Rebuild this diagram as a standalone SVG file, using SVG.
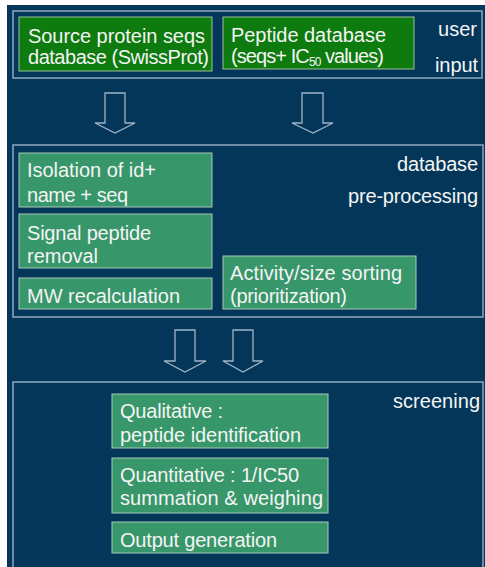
<svg xmlns="http://www.w3.org/2000/svg" width="485" height="567" viewBox="0 0 485 567">
<style>
text{font-family:"Liberation Sans",Arial,sans-serif;font-size:20px;fill:#f4f4f4}
.panel{fill:none;stroke:#8fa9bb;stroke-width:1.5}
.dk{fill:#0d7b0d;stroke:#9cc09c;stroke-width:1}
.lt{fill:#37966a;stroke:#a9c8bb;stroke-width:1}
.arr{fill:none;stroke:#9db4c6;stroke-width:1.3}
.r{text-anchor:end}
</style>
<rect x="0" y="0" width="485" height="567" fill="#ffffff"/>
<rect x="7" y="5" width="478" height="562" fill="#033659"/>

<g id="panel-user-input">
<rect class="panel" x="13" y="11" width="469" height="67"/>
<text class="r" x="477" y="36" textLength="39">user</text>
<text class="r" x="478" y="72" textLength="43">input</text>
</g>
<g id="node-source">
<rect class="dk" x="19" y="17" width="193" height="54"/>
<text x="28" y="43" textLength="177">Source protein seqs</text>
<text x="28" y="64" textLength="181">database (SwissProt)</text>
</g>
<g id="node-peptide-db">
<rect class="dk" x="223" y="17" width="191" height="52"/>
<text x="231" y="42" textLength="155">Peptide database</text>
<text x="231" y="63" textLength="153">(seqs+ IC<tspan font-size="12" dy="3">50</tspan><tspan dy="-3"> values)</tspan></text>
</g>

<g id="panel-preprocessing">
<rect class="panel" x="13" y="145" width="470" height="172"/>
<text class="r" x="478" y="171" textLength="81">database</text>
<text class="r" x="478" y="203" textLength="130">pre-processing</text>
</g>
<g id="node-isolation">
<rect class="lt" x="19" y="153" width="193" height="54"/>
<text x="27" y="177" textLength="129">Isolation of id+</text>
<text x="27" y="202" textLength="101">name + seq</text>
</g>
<g id="node-signal">
<rect class="lt" x="19" y="214" width="193" height="54"/>
<text x="27" y="240" textLength="124">Signal peptide</text>
<text x="27" y="263" textLength="71">removal</text>
</g>
<g id="node-mw">
<rect class="lt" x="19" y="278" width="193" height="31"/>
<text x="27" y="303" textLength="153">MW recalculation</text>
</g>
<g id="node-sorting">
<rect class="lt" x="223" y="256" width="193" height="53"/>
<text x="230" y="280" textLength="172">Activity/size sorting</text>
<text x="230" y="303" textLength="117">(prioritization)</text>
</g>

<g id="panel-screening">
<rect class="panel" x="13" y="382" width="470" height="200"/>
<text class="r" x="480" y="408" textLength="87">screening</text>
</g>
<g id="node-qualitative">
<rect class="lt" x="112" y="394" width="216" height="54"/>
<text x="120" y="418" textLength="103">Qualitative :</text>
<text x="120" y="442" textLength="181">peptide identification</text>
</g>
<g id="node-quantitative">
<rect class="lt" x="112" y="458" width="216" height="55"/>
<text x="120" y="482" textLength="179">Quantitative : 1/IC50</text>
<text x="120" y="505" textLength="203">summation &amp; weighing</text>
</g>
<g id="node-output">
<rect class="lt" x="112" y="522" width="216" height="31"/>
<text x="120" y="547" textLength="157">Output generation</text>
</g>

<g id="connectors">
<polygon class="arr" points="105,93 125,93 125,123 135,123 115,133 95,123 105,123"/>
<polygon class="arr" points="302,93 323,93 323,123 333,123 313,133 292,123 302,123"/>
<polygon class="arr" points="175,330 195,330 195,361 206,361 185,372 164,361 175,361"/>
<polygon class="arr" points="233,330 253,330 253,361 263,361 243,372 223,361 233,361"/>
</g>
</svg>
